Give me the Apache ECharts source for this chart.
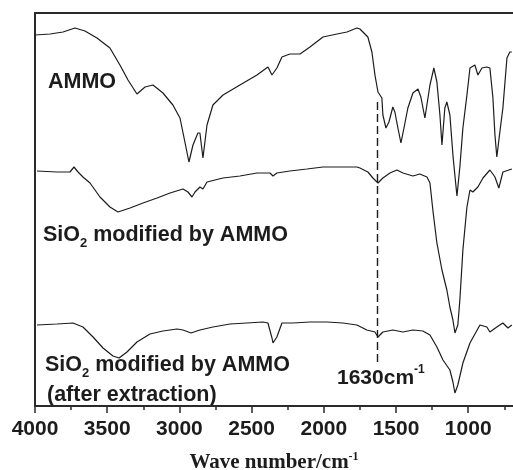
<!DOCTYPE html>
<html>
<head>
<meta charset="utf-8">
<script src="https://cdn.jsdelivr.net/npm/echarts@6/dist/echarts.min.js"></script>
<style>html,body{margin:0;padding:0;background:#fff}#c{width:513px;height:470px}</style>
</head>
<body>
<div id="c"></div>
<script>
// Wavenumber (cm^-1) and relative transmittance (a.u., offset stacked)
const ammoWave = [4000,3896,3806,3723,3654,3571,3481,3412,3356,3294,3238,3183,3114,3045,2996,2962,2934,2906,2872,2858,2837,2809,2768,2698,2581,2463,2387,2359,2325,2290,2235,2165,2096,2006,1909,1840,1771,1750,1695,1667,1646,1625,1598,1591,1570,1549,1522,1508,1487,1466,1445,1418,1383,1348,1328,1300,1265,1238,1217,1196,1182,1162,1148,1127,1106,1092,1078,1058,1037,1009,988,954,933,905,871,850,829,815,802,781,760,732,712,698];
const ammoT    = [371,372,374,378,375,368,358,341,326,312,319,321,313,301,288,264,244,261,273,273,248,281,301,311,321,331,339,331,338,349,352,352,359,369,372,374,378,377,369,354,331,314,308,291,278,284,299,294,278,263,278,298,313,317,309,288,321,338,324,291,261,298,304,291,251,230,210,239,278,311,338,341,331,338,339,338,308,271,249,274,298,348,354,354];

const sio2Wave = [3986,3848,3758,3730,3702,3668,3619,3550,3481,3425,3342,3252,3155,3065,2975,2941,2913,2892,2858,2837,2809,2698,2581,2463,2373,2352,2325,2235,2117,2006,1888,1771,1750,1695,1660,1625,1591,1542,1494,1452,1383,1335,1286,1265,1245,1217,1182,1148,1127,1106,1092,1072,1058,1037,1009,988,968,933,898,850,815,788,760,698];
const sio2T    = [235,234,234,239,234,229,223,209,199,194,198,203,208,213,217,214,209,214,219,217,224,228,230,233,233,230,233,235,237,239,239,239,238,234,228,223,228,233,236,233,230,232,229,223,196,163,136,116,99,86,73,81,106,156,199,216,214,219,228,236,229,218,234,237];

const extWave  = [3986,3848,3737,3668,3598,3529,3460,3418,3363,3294,3204,3114,3017,2975,2920,2858,2768,2650,2532,2422,2387,2359,2352,2325,2290,2214,2096,1978,1868,1771,1702,1646,1625,1591,1522,1452,1383,1314,1265,1217,1175,1127,1106,1092,1072,1037,988,919,871,850,802,760,725,698];
const extT     = [81,82,83,79,69,58,50,48,54,64,72,75,77,76,73,76,79,82,83,84,83,68,63,69,83,83,84,84,83,81,76,74,69,74,76,74,76,75,71,59,46,36,24,13,21,43,63,81,79,74,79,83,78,81];

const tickValues  = [4000,3500,3000,2500,2000,1500,1000];
const minorValues = [3750,3250,2750,2250,1750,1250,750];
const markWave = 1630;
const markFrom = 304, markTo = 44;

function pairs(xs, ys){ return xs.map((x,i)=>[x, ys[i]]); }

const chart = echarts.init(document.getElementById('c'), null, {renderer:'canvas'});
const lineCol = '#1c1c1c';
const axisCol = '#2a2a2a';
const sans = '"Liberation Sans", Arial, sans-serif';
const serif = '"Liberation Serif", "Times New Roman", serif';

const lineSeries = (name, data) => ({
  type:'line', name, data, showSymbol:false, symbol:'none',
  lineStyle:{color:lineCol, width:1.2}, animation:false, z:3
});

const s2 = lineSeries('SiO2 modified by AMMO', pairs(sio2Wave, sio2T));
s2.markLine = {
  symbol:'none', silent:true, animation:false,
  label:{show:false},
  lineStyle:{color:lineCol, width:1.4, type:[8,4]},
  data:[[{coord:[markWave, markFrom]},{coord:[markWave, markTo]}]]
};

const subRich = {
  m:{fontFamily:sans, fontWeight:'bold', fontSize:21.5, fill:lineCol, lineHeight:30, verticalAlign:'middle'},
  s:{fontFamily:sans, fontWeight:'bold', fontSize:13, fill:lineCol, lineHeight:30, verticalAlign:'bottom'}
};

chart.setOption({
  animation:false,
  backgroundColor:'#fff',
  grid:{left:35, top:13, right:0, bottom:64, outerBoundsMode:'none', containLabel:false},
  xAxis:[{
    type:'value', min:690, max:4000, inverse:true, position:'bottom',
    name:'{a|Wave number/cm}{b|-1}', nameLocation:'middle', nameGap:45,
    nameTextStyle:{rich:{
      a:{fontFamily:serif, fontWeight:'bold', fontSize:21, color:lineCol, lineHeight:24, verticalAlign:'middle'},
      b:{fontFamily:serif, fontWeight:'bold', fontSize:12, color:lineCol, lineHeight:24, verticalAlign:'top'}
    }},
    axisLine:{show:true, lineStyle:{color:axisCol, width:2}},
    axisTick:{show:true, inside:false, length:7, lineStyle:{color:axisCol, width:1.5}, customValues:tickValues},
    axisLabel:{show:true, customValues:tickValues, margin:13, color:lineCol, fontFamily:sans, fontWeight:'bold', fontSize:21,
      formatter:(v)=>String(Math.round(v)), showMinLabel:true, showMaxLabel:true},
    splitLine:{show:false}
  },{
    type:'value', min:690, max:4000, inverse:true, position:'bottom',
    axisLine:{show:false},
    axisTick:{show:true, inside:false, length:4, lineStyle:{color:axisCol, width:1.5}, customValues:minorValues},
    axisLabel:{show:false}, splitLine:{show:false}
  },{
    type:'value', min:690, max:4000, inverse:true, position:'top',
    axisLine:{show:true, lineStyle:{color:axisCol, width:2}},
    axisTick:{show:false}, axisLabel:{show:false}, splitLine:{show:false}
  }],
  yAxis:{
    type:'value', min:0, max:393,
    axisLine:{show:true, lineStyle:{color:axisCol, width:2}},
    axisTick:{show:false}, axisLabel:{show:false}, splitLine:{show:false}
  },
  series:[
    lineSeries('AMMO', pairs(ammoWave, ammoT)),
    s2,
    lineSeries('SiO2 modified by AMMO (after extraction)', pairs(extWave, extT))
  ],
  graphic:[
    {type:'text', x:48, y:82, style:{text:'AMMO', fill:lineCol, font:'bold 21.5px '+sans, verticalAlign:'middle'}},
    {type:'text', x:43, y:235, style:{text:'{m|SiO}{s|2}{m| modified by AMMO}', verticalAlign:'middle', rich:subRich}},
    {type:'text', x:45, y:365, style:{text:'{m|SiO}{s|2}{m| modified by AMMO}', verticalAlign:'middle', rich:subRich}},
    {type:'text', x:47, y:395, style:{text:'(after extraction)', fill:lineCol, font:'bold 21.5px '+sans, verticalAlign:'middle'}},
    {type:'text', x:337, y:378, style:{
      text:'{m|1630cm}{s|-1}', verticalAlign:'middle',
      rich:{
        m:{fontFamily:sans, fontWeight:'bold', fontSize:21, fill:lineCol, lineHeight:28, verticalAlign:'middle'},
        s:{fontFamily:sans, fontWeight:'bold', fontSize:12, fill:lineCol, lineHeight:28, verticalAlign:'top'}
      }}}
  ]
});
</script>
</body>
</html>
